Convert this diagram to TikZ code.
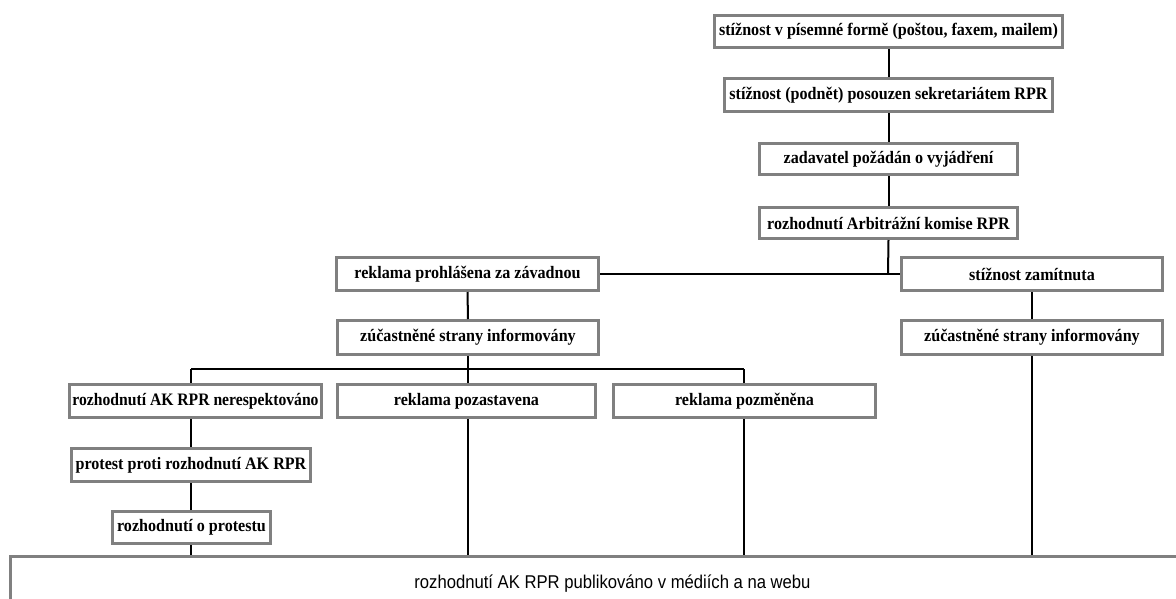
\documentclass[tikz,border=0pt]{standalone}
\usepackage{fontspec}
\setmainfont{Liberation Serif}[FakeStretch=0.92]
\newfontfamily\narrowserif{Liberation Serif}[FakeStretch=0.895]
\newfontfamily\arialfont{Liberation Sans}[FakeStretch=0.9]
\begin{document}
\begin{tikzpicture}[x=1pt,y=-1pt,
  box/.style={draw=boxgray, line width=3pt, fill=white, inner sep=0pt,
    font=\fontsize{17.5}{19}\selectfont\bfseries, anchor=center},
  link/.style={draw=black, line width=2pt}]
\definecolor{boxgray}{RGB}{128,128,128}
\useasboundingbox (0,0) rectangle (1176,598);
% top chain
\node[box, minimum width=348pt, minimum height=32pt] (b1) at (888.5,31.5) {stížnost v písemné formě (poštou, faxem, mailem)};
\node[box, minimum width=328pt, minimum height=33pt] (b2) at (888.5,95) {stížnost (podnět) posouzen sekretariátem RPR};
\node[box, minimum width=258pt, minimum height=31pt] (b3) at (888.5,159) {zadavatel požádán o vyjádření};
\node[box, minimum width=258pt, minimum height=31pt] (b4) at (888.5,223) {rozhodnutí Arbitrážní komise RPR};
% second level
\node[box, minimum width=262pt, minimum height=33pt] (b5) at (467.5,274) {reklama prohlášena za závadnou};
\node[box, minimum width=261pt, minimum height=33pt] (b6) at (1032,274) {stížnost zamítnuta};
\node[box, minimum width=261pt, minimum height=34pt] (b7) at (468,337.5) {zúčastněné strany informovány};
\node[box, minimum width=261pt, minimum height=34pt] (b8) at (1032,337.5) {zúčastněné strany informovány};
% third level
\node[box, minimum width=252pt, minimum height=33pt, font=\narrowserif\fontsize{17.5}{19}\selectfont\bfseries] (b9) at (195.5,401) {rozhodnutí AK RPR nerespektováno};
\node[box, minimum width=258pt, minimum height=33pt] (b10) at (466.5,401) {reklama pozastavena};
\node[box, minimum width=262pt, minimum height=33pt] (b11) at (744.5,401) {reklama pozměněna};
\node[box, minimum width=239pt, minimum height=33pt] (b12) at (191,465) {protest proti rozhodnutí AK RPR};
\node[box, minimum width=158pt, minimum height=32pt] (b13) at (191.5,527.5) {rozhodnutí o protestu};
% bottom box (runs off the page)
\begin{scope}
\clip (0,0) rectangle (1176,598);
\node[box, minimum width=1204pt, minimum height=56pt, font=\arialfont\fontsize{18.5}{20}\selectfont] (pub) at (612.5,584) {rozhodnutí AK RPR publikováno v médiích a na webu};
\end{scope}
% named junctions
\coordinate (j1) at (888,274);
\coordinate (j2) at (468,369);
\coordinate (jl) at (191,369);
\coordinate (jr) at (744,369);
% connectors
\draw[link] (b1.south) -- (b2.north);
\draw[link] (b2.south) -- (b3.north);
\draw[link] (b3.south) -- (b4.north);
\draw[link] (b4.south) -- (j1);
\draw[link] (b5.east) -- (j1) -- (b6.west);
\draw[link] (b5.south) -- (b7.north);
\draw[link] (b6.south) -- (b8.north);
\draw[link] (b7.south -| j2) -- (j2) -- (b10.north -| j2);
\draw[link] (jl) -- (jr);
\draw[link] (jl) -- (b9.north -| jl);
\draw[link] (jr) -- (b11.north -| jr);
\draw[link] (b9.south -| jl) -- (b12.north -| jl);
\draw[link] (b12.south -| jl) -- (b13.north -| jl);
\draw[link] (b13.south -| jl) -- (pub.north -| jl);
\draw[link] (b10.south -| j2) -- (pub.north -| j2);
\draw[link] (b11.south -| jr) -- (pub.north -| jr);
\draw[link] (b8.south) -- (pub.north -| b8.south);
\end{tikzpicture}
\end{document}
